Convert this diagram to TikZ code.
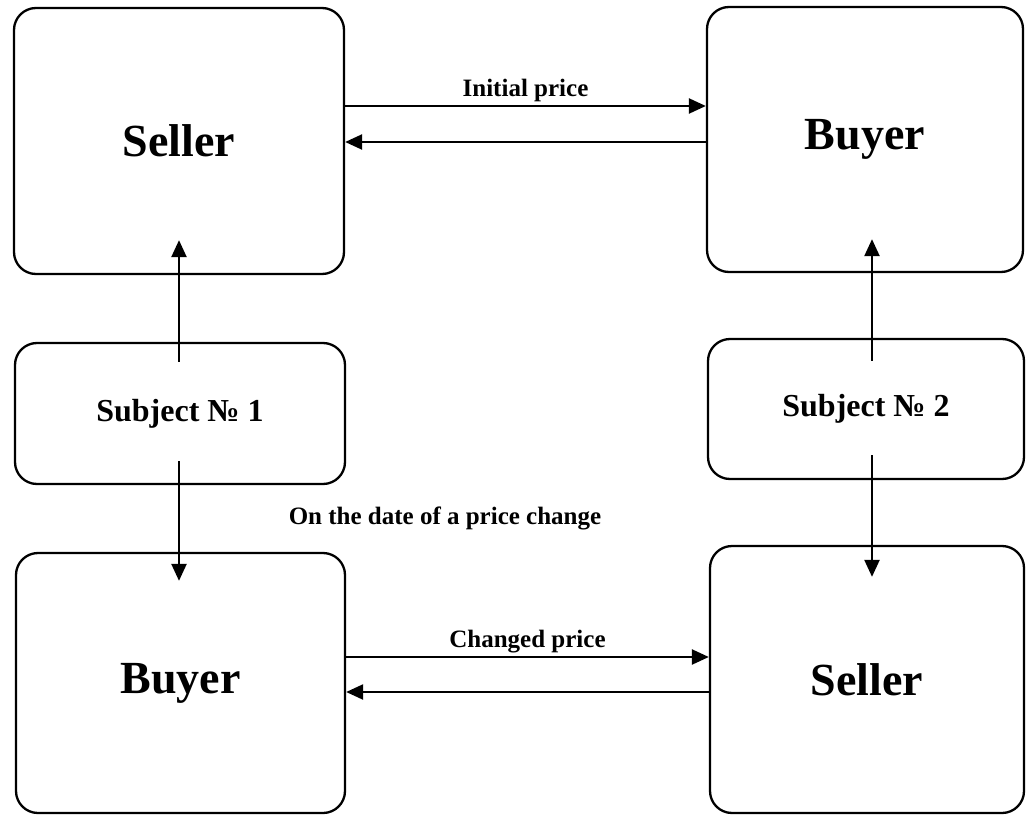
\documentclass[tikz,border=0pt]{standalone}
\usepackage{fontspec}
\setmainfont{Liberation Serif}
\usetikzlibrary{positioning,arrows.meta}

\begin{document}
\begin{tikzpicture}[x=1pt,y=-1pt,
    box/.style={draw, line width=2.3pt, rounded corners=22pt, font=\bfseries\fontsize{46}{50}\selectfont},
    subj/.style={draw, line width=2.3pt, rounded corners=22pt, font=\bfseries\fontsize{32}{36}\selectfont},
    arr/.style={line width=2.3pt, -{Triangle[length=17pt,width=15pt]}},
    lbl/.style={font=\bfseries\fontsize{25}{28}\selectfont}]
    \useasboundingbox (0,0) rectangle (1026,816);

    % top row
    \node[box, minimum width=330pt, minimum height=266pt] (S1) at (179,141) {Seller};
    \node[box, minimum width=316pt, minimum height=265pt] (B1) at (865,139.5) {Buyer};

    % middle: the two subjects
    \node[subj, minimum width=330pt, minimum height=141pt] (P1) at (180,413.5) {Subject № 1};
    \node[subj, minimum width=316pt, minimum height=140pt] (P2) at (866,409) {Subject № 2};

    % bottom row
    \node[box, minimum width=329pt, minimum height=260pt] (B2) at (180.5,683) {Buyer};
    \node[box, minimum width=314pt, minimum height=267pt] (S2) at (867,679.5) {Seller};

    % price exchange
    \draw[arr] ([yshift=35pt]S1.east) -- node[lbl, above] {Initial price} ([yshift=33.5pt]B1.west);
    \draw[arr] ([yshift=-2.5pt]B1.west) -- ([yshift=-1pt]S1.east);
    \draw[arr] ([yshift=26pt]B2.east) -- node[lbl, above] {Changed price} ([yshift=22.5pt]S2.west);
    \draw[arr] ([yshift=-12.5pt]S2.west) -- ([yshift=-9pt]B2.east);

    % subjects go through the boxes
    \draw[arr] ([xshift=-1pt,yshift=-20pt]P1.north) -- ([yshift=35pt]S1.south);
    \draw[arr] ([xshift=-1pt,yshift=24pt]P1.south) -- ([xshift=-1.5pt,yshift=-29pt]B2.north);
    \draw[arr] ([xshift=6pt,yshift=-23pt]P2.north) -- ([xshift=7pt,yshift=34pt]B1.south);
    \draw[arr] ([xshift=6pt,yshift=25pt]P2.south) -- ([xshift=5pt,yshift=-32pt]S2.north);

    \node[lbl] (date) at (445,518) {On the date of a price change};
\end{tikzpicture}
\end{document}
